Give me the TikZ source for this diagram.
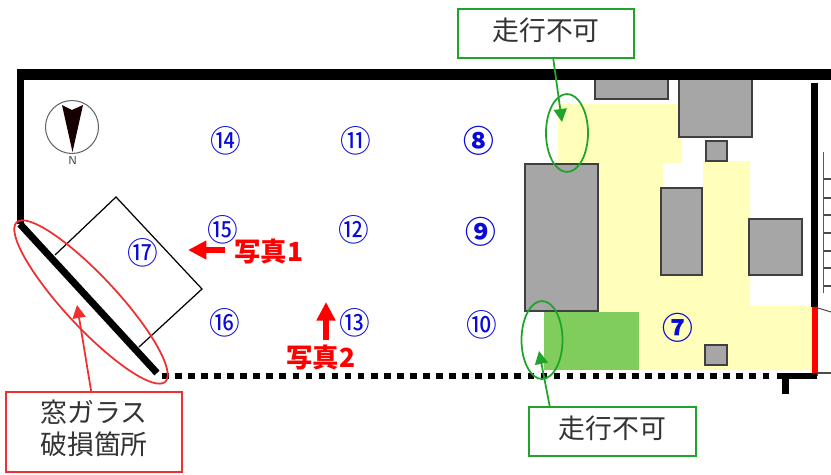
\documentclass[tikz,border=0pt]{standalone}
\usepackage{fontspec}
\newfontfamily\cjk{Noto Sans CJK JP}
\usetikzlibrary{arrows.meta}
\usetikzlibrary{shapes.geometric}
\definecolor{planyellow}{HTML}{FFFFBB}
\definecolor{plangreen}{HTML}{80CC5C}
\definecolor{plangray}{HTML}{A6A6A6}
\definecolor{boxgreen}{HTML}{1FA32A}
\definecolor{boxred}{HTML}{F03030}
\definecolor{spotblue}{HTML}{0A0AD8}
\tikzset{
	callout/.style={draw, line width=1pt, fill=white, inner sep=0pt, text depth=0.18cm, text=black!80, align=center, font=\cjk\fontsize{15.3}{18.2}\selectfont},
	mark ring/.style={draw, ellipse, line width=1pt, inner sep=0pt},
	pointer/.style={line width=1pt, -{Triangle[length=2.6mm,width=2.6mm]}},
	photo arrow/.style={red, line width=3.2pt, -{Triangle[length=3.7mm,width=3.6mm]}},
	photo label/.style={red, font=\cjk\bfseries\fontsize{15}{16}\selectfont},
	spot label/.style={spotblue, inner sep=0pt, font=\cjk\fontsize{17.5}{18}\selectfont},
	spot strong/.style={spot label, font=\cjk\bfseries\fontsize{17.5}{18}\selectfont},
}
\newcommand{\equip}[4] % x1, y1, x2, y2 in px
{
	\draw[fill=plangray, draw=black!75, line width=0.8pt] (#1,#2) rectangle (#3,#4);
}
\newcommand{\spot}[4] % style, x, y, number
{
	\node[#1] (spot#4) at (#2,#3) {\char\numexpr"245F+#4\relax};
}
\begin{document}
\begin{tikzpicture}[x=0.02cm, y=-0.02cm]
	% 831 x 474 px
	\useasboundingbox (0,0) rectangle (831,474);
	
	% floor areas
	\fill[planyellow] (558,104) -- (682,104) -- (682,163) -- (663,163) -- (663,188) -- (703,188) -- (703,161) -- (750,161) -- (750,306) -- (812,306) -- (812,370) -- (544,370) -- (544,311) -- (558,311) -- cycle;
	\fill[plangreen] (544,312) rectangle (639,370);
	
	\equip{595}{79}{668}{99};
	\equip{679}{79}{752}{137};
	\equip{706}{141}{727}{161};
	\equip{525}{164}{598}{311};
	\equip{661}{188}{702}{275};
	\equip{749}{219}{802}{275};
	\equip{705}{345}{727}{365};
	
	% walls
	\fill (17,69) rectangle (831,80);
	\fill (17,69) rectangle (24,224);
	\fill (811,83) rectangle (818,307);
	\fill[red] (812,307) rectangle (818,376);
	\fill (777,373) rectangle (817,379);
	\fill (782,373) rectangle (789,394);
	\draw[line width=3.8pt, dash pattern=on 3.8pt off 3.63pt] (162,376) -- (772,376);
	\draw[line width=4pt] (20,224) -- (157,373);
	\draw[line width=0.6pt, black!70] (818,308) -- (831,312);
	\draw[line width=0.6pt, black!70] (818,373) -- (831,373);
	
	% stairs
	\draw[line width=1pt, black!65] (823.5,152) -- (823.5,293);
	\draw[line width=0.8pt, black!70] (824,179) -- (831,179);
	\draw[line width=0.8pt, black!70] (824,198) -- (831,198);
	\draw[line width=0.8pt, black!70] (824,215) -- (831,215);
	\draw[line width=0.8pt, black!70] (824,233) -- (831,233);
	\draw[line width=0.8pt, black!70] (824,251) -- (831,251);
	\draw[line width=0.8pt, black!70] (824,268) -- (831,268);
	\draw[line width=0.8pt, black!70] (824,286) -- (831,286);
	
	% annex
	\draw[line width=0.7pt] (55,255) -- (116,197) -- (202,289) -- (139,347);
	
	% compass
	\draw[line width=0.6pt, black!60] (72,127) circle (26.5);
	\fill[black!90!red] (62,105) -- (72,110) -- (83,105) -- (72.5,152) -- cycle;
	\node[black!75, inner sep=0pt, font=\sffamily\fontsize{6.5}{7}\selectfont] (north) at (72.7,161) {N};
	
	\spot{spot label}{226}{141}{14};
	\spot{spot label}{223}{230}{15};
	\spot{spot label}{225}{323}{16};
	\spot{spot label}{143}{253}{17};
	\spot{spot label}{356}{141}{11};
	\spot{spot label}{354}{230}{12};
	\spot{spot label}{355}{323}{13};
	\spot{spot strong}{479}{141}{8};
	\spot{spot strong}{481}{232}{9};
	\spot{spot label}{482}{325}{10};
	\spot{spot strong}{678}{328}{7};
	
	% photo directions
	\draw[photo arrow] (225,250) -- (188,250);
	\draw[photo arrow] (326,340) -- (326,302);
	\node[photo label] (photoA) at (269,251) {写真1};
	\node[photo label] (photoB) at (321,357) {写真2};
	
	% marks and callouts
	\node[mark ring, boxred, minimum width=4.36cm, minimum height=1.04cm, rotate=-47] (ringGlass) at (91,302) {};
	\node[mark ring, boxgreen, minimum width=0.84cm, minimum height=1.56cm] (ringTop) at (567,133) {};
	\node[mark ring, boxgreen, minimum width=0.82cm, minimum height=1.56cm] (ringBottom) at (542,340) {};
	
	\node[callout, draw=boxgreen, minimum width=3.52cm, minimum height=0.98cm] (noPassTop) at (546,33.5) {走行不可};
	\node[callout, draw=boxgreen, minimum width=3.34cm, minimum height=0.98cm] (noPassBottom) at (612.5,431.5) {走行不可};
	\node[callout, draw=boxred, minimum width=3.52cm, minimum height=1.6cm] (glassBox) at (94,432) {窓ガラス\\破損箇所};
	
	\coordinate (tipTop) at (562,122);
	\coordinate (tipBottom) at (539,351);
	\coordinate (tipGlass) at (77,305);
	\draw[pointer, boxgreen] (noPassTop.-74) -- (tipTop);
	\draw[pointer, boxgreen] (noPassBottom.158) -- (tipBottom);
	\draw[pointer, boxred] (glassBox.94) -- (tipGlass);
\end{tikzpicture}
\end{document}
